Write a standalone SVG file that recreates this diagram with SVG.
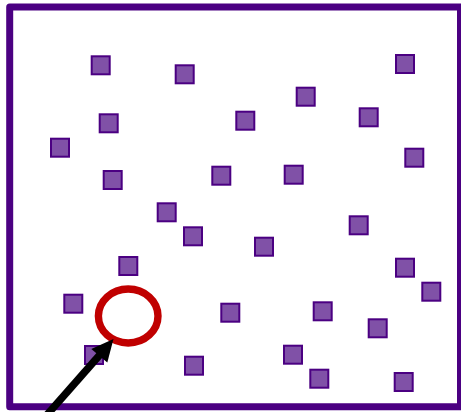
<svg xmlns="http://www.w3.org/2000/svg" width="461" height="412" viewBox="0 0 461 412">
<style>
.sq{fill:#8051A7;stroke:#4B0082;stroke-width:2}
.frame{fill:#fff;stroke:#4B0082;stroke-width:7;stroke-linejoin:round}
</style>
<rect width="461" height="412" fill="#fff"/>
<g id="frame"><rect class="frame" x="9.7" y="7" width="450.8" height="399.7"/></g>
<g id="squares">
<rect id="s1" class="sq" x="91.7" y="56.3" width="18" height="18"/>
<rect id="s2" class="sq" x="175.7" y="65.3" width="18" height="18"/>
<rect id="s3" class="sq" x="396" y="55" width="18" height="18"/>
<rect id="s4" class="sq" x="296.7" y="87.7" width="18" height="18"/>
<rect id="s5" class="sq" x="99.7" y="114.3" width="18" height="18"/>
<rect id="s6" class="sq" x="236.3" y="111.7" width="18" height="18"/>
<rect id="s7" class="sq" x="359.7" y="108.3" width="18" height="18"/>
<rect id="s8" class="sq" x="51" y="138.7" width="18" height="18"/>
<rect id="s9" class="sq" x="405.3" y="148.7" width="18" height="18"/>
<rect id="s10" class="sq" x="103.7" y="171" width="18" height="18"/>
<rect id="s11" class="sq" x="212.3" y="166.7" width="18" height="18"/>
<rect id="s12" class="sq" x="284.7" y="165.7" width="18" height="18"/>
<rect id="s13" class="sq" x="157.7" y="203.3" width="18" height="18"/>
<rect id="s14" class="sq" x="184" y="227.3" width="18" height="18"/>
<rect id="s15" class="sq" x="349.7" y="216.3" width="18" height="18"/>
<rect id="s16" class="sq" x="255" y="237.7" width="18" height="18"/>
<rect id="s17" class="sq" x="119.3" y="257" width="18" height="18"/>
<rect id="s18" class="sq" x="396" y="258.7" width="18" height="18"/>
<rect id="s19" class="sq" x="422.3" y="282.7" width="18" height="18"/>
<rect id="s20" class="sq" x="64.3" y="294.7" width="18" height="18"/>
<rect id="s21" class="sq" x="221.3" y="303.7" width="18" height="18"/>
<rect id="s22" class="sq" x="313.7" y="302.3" width="18" height="18"/>
<rect id="s23" class="sq" x="368.7" y="319.3" width="18" height="18"/>
<rect id="s24" class="sq" x="85" y="346" width="18" height="18"/>
<rect id="s25" class="sq" x="185" y="356.7" width="18" height="18"/>
<rect id="s26" class="sq" x="284" y="345.7" width="18" height="18"/>
<rect id="s27" class="sq" x="310.3" y="369.7" width="18" height="18"/>
<rect id="s28" class="sq" x="394.7" y="373" width="18" height="18"/>
</g>
<g id="highlight"><ellipse cx="128.2" cy="316" rx="29.8" ry="27" fill="none" stroke="#C00000" stroke-width="7.4"/></g>
<g id="connectors">
<line x1="46" y1="416" x2="101" y2="353.5" stroke="#000" stroke-width="7.5"/>
<polygon points="113.5,339 107.3,362.6 91.3,349" fill="#000"/>
</g>
</svg>
